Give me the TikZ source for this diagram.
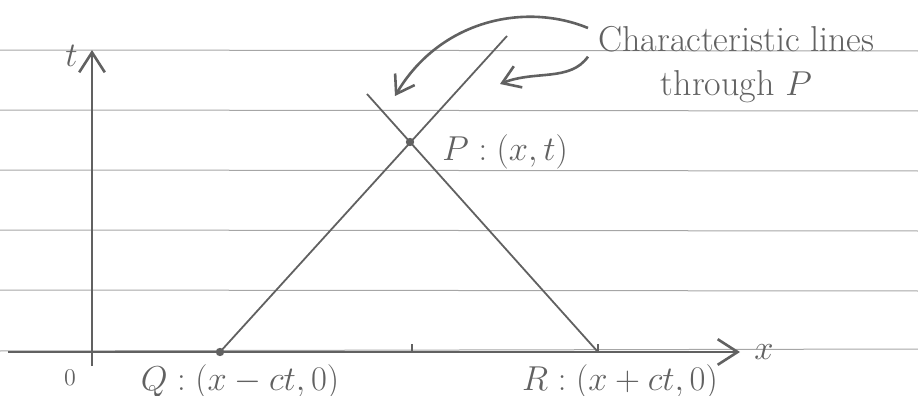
\documentclass[tikz,border=0pt]{standalone}
\usepackage{amsmath, amssymb}
\usepackage{tikz}
\usetikzlibrary{arrows.meta, positioning, calc}
\usepackage{xcolor}
\colorlet{pencil}{black!62}
\colorlet{rule}{black!35}

\begin{document}
\begin{tikzpicture}[
    x=0.5pt, y=-0.5pt,
    ruled/.style={draw=rule, line width=0.5pt},
    axis/.style={draw=pencil, line width=1.3pt, -{Straight Barb[length=3.5mm, width=4.5mm]}},
    charline/.style={draw=pencil, line width=0.9pt},
    pointer/.style={draw=pencil, line width=1.3pt, -{Straight Barb[length=3mm, width=4mm]}},
    dot/.style={circle, fill=pencil, inner sep=0pt, minimum size=4.2pt},
    lbl/.style={text=pencil, font=\fontsize{17}{22}\selectfont, inner sep=1pt},
]
\useasboundingbox (0,0) rectangle (918,396);

% Ruled paper
\foreach \ry in {50,110,170,230,290} {
  \draw[ruled] (0,\ry) -- (918,\ry+1);
}
\draw[ruled] (0,351) -- (918,349);

% Axes
\coordinate (xstart) at (8,352);
\coordinate (xend) at (740,352);
\coordinate (tstart) at (92,366);
\coordinate (tend) at (92,50);
\draw[axis] (xstart) -- (xend);
\draw[axis] (tstart) -- (tend);
\node[lbl, left=6pt of tend, yshift=-3pt] (tlab) {$t$};
\node[lbl, right=6pt of xend] (xlab) {$x$};
\node[lbl, font=\fontsize{13}{15}\selectfont] (orig) at (70,378) {$0$};

% Points and ticks
\node[dot] (Q) at (220,352) {};
\node[dot] (P) at (410,142) {};
\coordinate (R) at (598,352);
\coordinate (M) at (412,352);
\draw[charline] (M) -- ++(0,-8);
\draw[charline] (R) -- ++(0,-8);

% Characteristic lines through P
\coordinate (qtop) at (507,36);
\coordinate (rtop) at (367,94);
\draw[charline] (Q.center) -- (qtop);
\draw[charline] (R) -- (rtop);

\node[lbl, anchor=west] (Plab) at (440,152) {$P:(x,t)$};
\node[lbl] (Qlab) at (240,382) {$Q:(x-ct,0)$};
\node[lbl] (Rlab) at (620,382) {$R:(x+ct,0)$};

% Annotation
\node[lbl, align=center, font=\fontsize{18}{22}\selectfont, anchor=north west] (chartext) at (596,24) {Characteristic lines\\through $P$};
\coordinate (tipA) at (395,96);
\coordinate (tipB) at (500,84);
\draw[pointer] ([xshift=-4pt,yshift=-2pt]chartext.north west) .. controls (525,2) and (440,20) .. (tipA);
\draw[pointer] ([xshift=-4pt,yshift=4pt]chartext.west) .. controls (570,82) and (535,70) .. (tipB);

\end{tikzpicture}
\end{document}
